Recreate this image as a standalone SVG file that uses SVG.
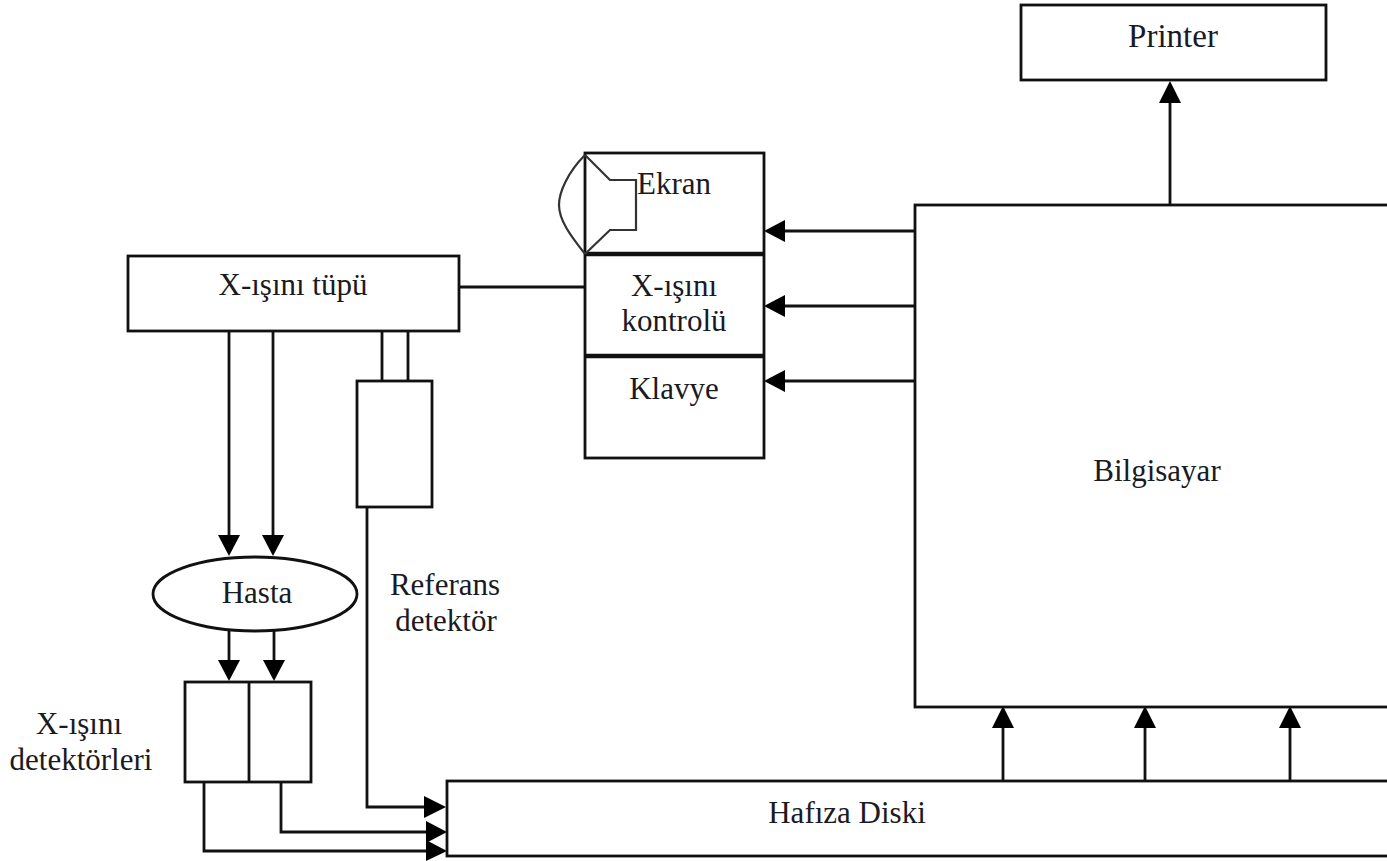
<svg xmlns="http://www.w3.org/2000/svg" width="1387" height="861" viewBox="0 0 1387 861">
<style>
.b{fill:#fff;stroke:#111;stroke-width:2.8}
.l{fill:none;stroke:#111;stroke-width:2.8}
.t{fill:none;stroke:#111;stroke-width:4.6}
.s{fill:none;stroke:#333;stroke-width:2.2}
.h{fill:#000;stroke:none}
text{font-family:"Liberation Serif","Times New Roman",serif;font-size:31px;fill:#1a1a22;text-anchor:middle}
</style>
<rect width="1387" height="861" fill="#fff"/>
<g id="connectors">
<path class="l" d="M1170 205V102"/><polygon class="h" points="1170,81 1159,103 1181,103"/>
<path class="l" d="M915 231H785"/><polygon class="h" points="764,231 785,220 785,242"/>
<path class="l" d="M915 306H785"/><polygon class="h" points="764,306 785,295 785,317"/>
<path class="l" d="M915 381H785"/><polygon class="h" points="764,381 785,370 785,392"/>
<path class="l" d="M459 287H585"/>
<path class="l" d="M229 331V537"/><polygon class="h" points="229,556 218,535 240,535"/>
<path class="l" d="M273 331V537"/><polygon class="h" points="273,556 262,535 284,535"/>
<path class="l" d="M382 331V381M408 331V381"/>
<path class="l" d="M229 631V662"/><polygon class="h" points="229,681 218,660 240,660"/>
<path class="l" d="M274 631V662"/><polygon class="h" points="274,681 263,660 285,660"/>
<path class="l" d="M367 507V807H426"/><polygon class="h" points="446,807 424,796 424,818"/>
<path class="l" d="M281 782V832H428"/><polygon class="h" points="447,832 426,821 426,843"/>
<path class="l" d="M204 782V851H428"/><polygon class="h" points="447,851 426,840 426,861"/>
<path class="l" d="M1003 781V727"/><polygon class="h" points="1003,706 992,728 1014,728"/>
<path class="l" d="M1145 781V727"/><polygon class="h" points="1145,706 1134,728 1156,728"/>
<path class="l" d="M1290 781V727"/><polygon class="h" points="1290,706 1279,728 1301,728"/>
</g>
<g id="printer"><rect class="b" x="1021" y="5" width="305" height="75"/><text x="1173" y="47" style="font-size:33px">Printer</text></g>
<g id="bilgisayar"><rect class="b" x="915" y="205" width="480" height="502"/><text x="1157" y="481">Bilgisayar</text></g>
<g id="konsol">
<rect class="b" x="585" y="153" width="179" height="305"/>
<path class="t" d="M585 254H764M585 356H764"/>
<path class="s" d="M585 155L610 180H636V230H610L585 254"/>
<path class="s" d="M585 155C568 172 559 192 559 205C559 220 570 235 585 254"/>
<text x="674" y="194">Ekran</text>
<text x="674" y="296">X-ışını</text>
<text x="674" y="331">kontrolü</text>
<text x="674" y="399">Klavye</text>
</g>
<g id="tup"><rect class="b" x="128" y="256" width="331" height="75"/><text x="293" y="295">X-ışını tüpü</text></g>
<g id="referans"><rect class="b" x="357" y="381" width="75" height="126"/><text x="445" y="595">Referans</text><text x="446" y="631">detektör</text></g>
<g id="hasta"><ellipse class="b" cx="255" cy="594" rx="102" ry="37"/><text x="257" y="603">Hasta</text></g>
<g id="detektorler"><rect class="b" x="185" y="682" width="126" height="100"/><path class="l" d="M249 682V782"/><text x="79" y="734">X-ışını</text><text x="81" y="770">detektörleri</text></g>
<g id="hafiza"><rect class="b" x="447" y="781" width="945" height="75"/><text x="847" y="823">Hafıza Diski</text></g>
</svg>
